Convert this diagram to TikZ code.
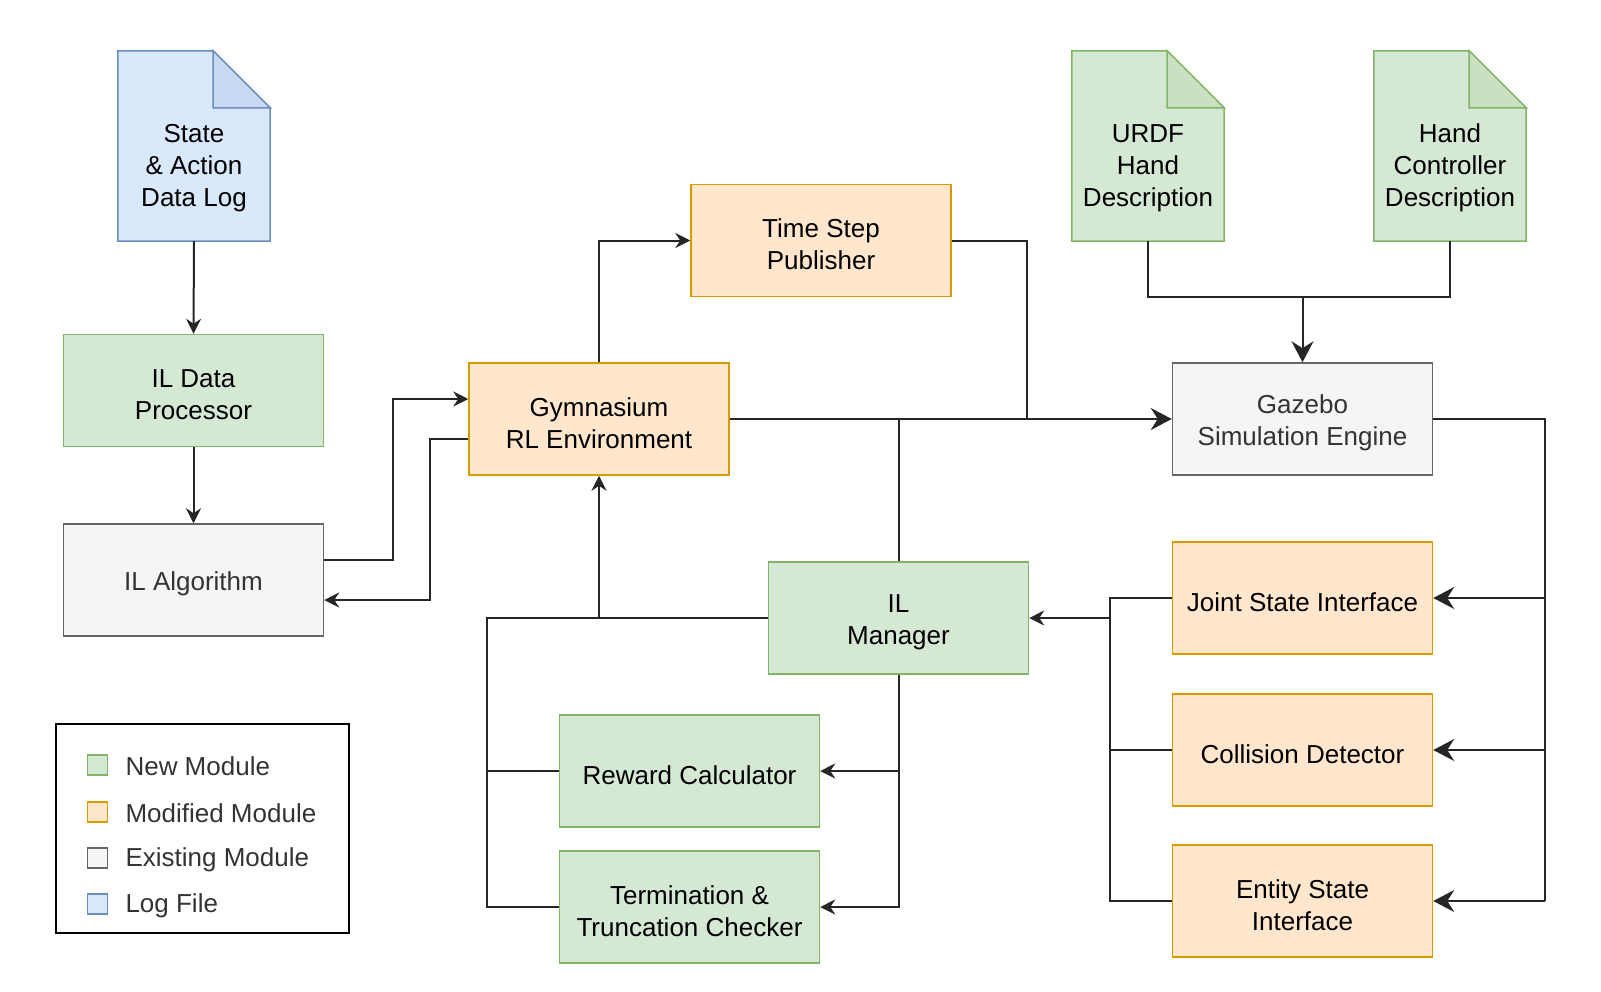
\documentclass[tikz,border=0pt]{standalone}
\usepackage{fontspec}
\setmainfont{Liberation Sans}
\usetikzlibrary{arrows.meta}

\definecolor{newfill}{HTML}{D5E8D4}
\definecolor{newline}{HTML}{82B366}
\definecolor{modfill}{HTML}{FFE6CC}
\definecolor{modline}{HTML}{D79B00}
\definecolor{oldfill}{HTML}{F5F5F5}
\definecolor{oldline}{HTML}{666666}
\definecolor{logfill}{HTML}{DAE8FC}
\definecolor{logline}{HTML}{6C8EBF}
\definecolor{oldtext}{HTML}{333333}

\tikzset{
  box/.style={rectangle, minimum width=260pt, minimum height=112pt, align=center, line width=1.5pt, font=\fontsize{26}{32}\selectfont, text height=27pt},
  twoline/.style={text height=59pt},
  newmod/.style={box, fill=newfill, draw=newline},
  modmod/.style={box, fill=modfill, draw=modline},
  oldmod/.style={box, fill=oldfill, draw=oldline, text=oldtext},
  doc/.style={rectangle, minimum width=152pt, minimum height=190pt},
  doctext/.style={align=center, font=\fontsize{26}{32}\selectfont},
  wire/.style={line width=2pt, draw=black!85},
  arr/.style={wire, -{Stealth[length=15pt,width=15pt,inset=5pt]}},
  bigarr/.style={wire, -{Stealth[length=21pt,width=22pt,inset=7pt]}},
  key/.style={rectangle, minimum size=20pt, line width=1.5pt},
  keytext/.style={anchor=west, text=oldtext, font=\fontsize{26}{30}\selectfont}
}

% file shape with folded corner
\newcommand{\drawdoc}[3]{%
  \filldraw[fill=#2, draw=#3, line width=1.5pt] (#1.south west) -- (#1.north west) -- ([xshift=-57pt]#1.north east) -- ([yshift=-57pt]#1.north east) -- (#1.south east) -- cycle;
  \filldraw[fill=#2!85!#3, draw=#3, line width=1.5pt] ([xshift=-57pt]#1.north east) -- ([xshift=-57pt,yshift=-57pt]#1.north east) -- ([yshift=-57pt]#1.north east) -- cycle;}

\begin{document}
\begin{tikzpicture}[x=1pt,y=-1pt]
\useasboundingbox (0,0) rectangle (1601,991);

% Files
\node[doc] (statelog) at (194,146) {};
\node[doc] (urdfdesc) at (1148,146) {};
\node[doc] (handdesc) at (1450,146) {};
\drawdoc{statelog}{logfill}{logline}
\drawdoc{urdfdesc}{newfill}{newline}
\drawdoc{handdesc}{newfill}{newline}
\node[doctext] (statelogtxt) at (194,168) {State\\\& Action\\Data Log};
\node[doctext] (urdfdesctxt) at (1148,168) {URDF\\Hand\\Description};
\node[doctext] (handdesctxt) at (1450,168) {Hand\\Controller\\Description};

% Moduli
\node[newmod, twoline] (dataproc) at (193.5,390.5) {IL Data\\Processor};
\node[oldmod] (ilalgo) at (193.5,580) {IL Algorithm};
\node[modmod, twoline] (gymenv) at (599,419) {Gymnasium\\RL Environment};
\node[modmod, twoline] (timestep) at (821,240.5) {Time Step\\Publisher};
\node[oldmod, twoline] (gazebo) at (1302.5,419) {Gazebo\\Simulation Engine};
\node[newmod, twoline] (ilmanager) at (898.5,618) {IL\\Manager};
\node[newmod] (reward) at (689.5,771) {Reward Calculator};
\node[newmod, twoline] (termcheck) at (689.5,907) {Termination \&\\Truncation Checker};
\node[modmod] (jointstate) at (1302.5,598) {Joint State Interface};
\node[modmod] (collision) at (1302.5,750) {Collision Detector};
\node[modmod, twoline] (entitystate) at (1302.5,901) {Entity State\\Interface};

% Punti di giunzione
\coordinate (tsjoin) at (1027,419);
\coordinate (simjoin) at (1302.5,297);
\coordinate (rbus) at (1545,901);
\coordinate (lbus) at (1110,901);
\coordinate (mbus) at (487,907);

% Collegamenti a sinistra
\draw[arr] (statelog.south) -- (dataproc.north);
\draw[arr] (dataproc.south) -- (ilalgo.north);
\draw[arr] ([yshift=20pt]ilalgo.east) -- ++(69,0) |- ([yshift=20pt]gymenv.west);
\draw[arr] ([yshift=-20pt]gymenv.west) -- ++(-38,0) |- ([yshift=-20pt]ilalgo.east);

% Collegamenti in alto
\draw[arr] (gymenv.north) |- (timestep.west);
\draw[wire] (timestep.east) -| (tsjoin);
\draw[bigarr] (gymenv.east) -- (gazebo.west);
\draw[wire] (ilmanager.north) -- (ilmanager.north |- gymenv.east);
\draw[wire] (urdfdesc.south) |- (simjoin) -| (handdesc.south);
\draw[bigarr] (simjoin) -- (gazebo.north);

% Collegamenti a destra
\draw[wire] (gazebo.east) -| (rbus);
\draw[bigarr] (rbus |- jointstate.east) -- (jointstate.east);
\draw[bigarr] (rbus |- collision.east) -- (collision.east);
\draw[bigarr] (rbus) -- (entitystate.east);
\draw[wire] (jointstate.west) -- (jointstate.west -| lbus) |- (entitystate.west);
\draw[wire] (collision.west) -- (collision.west -| lbus);
\draw[arr] (ilmanager.east -| lbus) -- (ilmanager.east);

% Collegamenti in basso
\draw[wire] (ilmanager.west) -| (mbus) -- (termcheck.west);
\draw[wire] (reward.west) -- (reward.west -| mbus);
\draw[arr] (gymenv.south |- ilmanager.west) -- (gymenv.south);
\draw[arr] (ilmanager.south) |- (termcheck.east);
\draw[arr] (ilmanager.south |- reward.east) -- (reward.east);

% Legenda
\node[rectangle, draw=black, line width=2.5pt, minimum width=293pt, minimum height=209pt] (legend) at (202.5,828.5) {};
\node[key, fill=newfill, draw=newline] (keynew) at (97.5,765) {};
\node[key, fill=modfill, draw=modline] (keymod) at (97.5,812) {};
\node[key, fill=oldfill, draw=oldline] (keyold) at (97.5,858) {};
\node[key, fill=logfill, draw=logline] (keylog) at (97.5,904) {};
\node[keytext] (keynewtxt) at (122,766) {New Module};
\node[keytext] (keymodtxt) at (122,813) {Modified Module};
\node[keytext] (keyoldtxt) at (122,860) {Existing Module};
\node[keytext] (keylogtxt) at (122,906) {Log File};
\end{tikzpicture}
\end{document}
